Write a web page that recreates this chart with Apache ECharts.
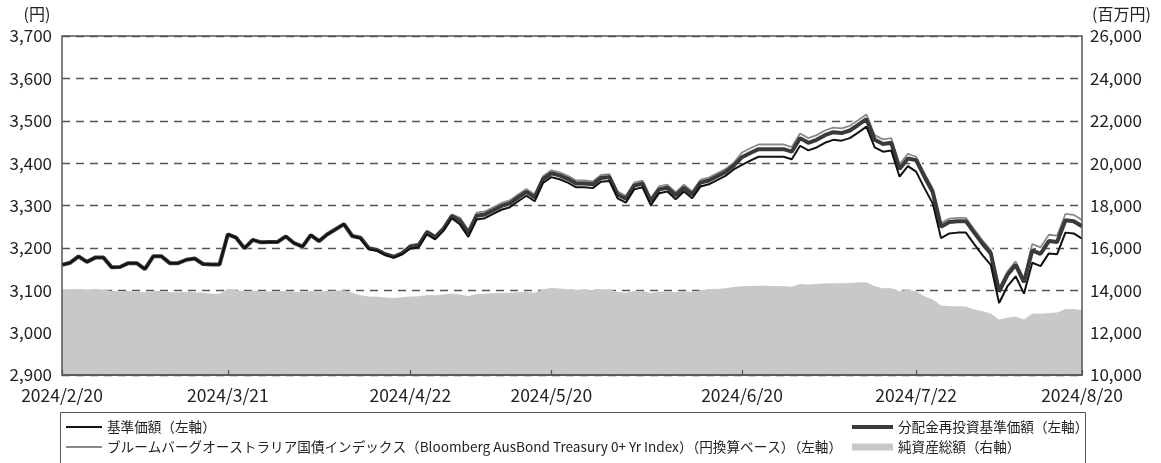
<!DOCTYPE html>
<html><head><meta charset="utf-8">
<script src="https://cdn.jsdelivr.net/npm/echarts@6/dist/echarts.min.js"></script>
<style>html,body{margin:0;padding:0;background:#fff}#c{width:1161px;height:463px}</style>
</head><body><div id="c"></div>
<script>
const dates = [
'2024/2/20','2024/2/21','2024/2/22','2024/2/26','2024/2/27','2024/2/28','2024/2/29',
'2024/3/1','2024/3/4','2024/3/5','2024/3/6','2024/3/7','2024/3/8','2024/3/11','2024/3/12','2024/3/13','2024/3/14','2024/3/15','2024/3/18','2024/3/19','2024/3/21','2024/3/22','2024/3/25','2024/3/26','2024/3/27','2024/3/28','2024/3/29',
'2024/4/1','2024/4/2','2024/4/3','2024/4/4','2024/4/5','2024/4/8','2024/4/9','2024/4/10','2024/4/11','2024/4/12','2024/4/15','2024/4/16','2024/4/17','2024/4/18','2024/4/19','2024/4/22','2024/4/23','2024/4/24','2024/4/25','2024/4/26','2024/4/30',
'2024/5/1','2024/5/2','2024/5/7','2024/5/8','2024/5/9','2024/5/10','2024/5/13','2024/5/14','2024/5/15','2024/5/16','2024/5/17','2024/5/20','2024/5/21','2024/5/22','2024/5/23','2024/5/24','2024/5/27','2024/5/28','2024/5/29','2024/5/30','2024/5/31',
'2024/6/3','2024/6/4','2024/6/5','2024/6/6','2024/6/7','2024/6/10','2024/6/11','2024/6/12','2024/6/13','2024/6/14','2024/6/17','2024/6/18','2024/6/19','2024/6/20','2024/6/21','2024/6/24','2024/6/25','2024/6/26','2024/6/27','2024/6/28',
'2024/7/1','2024/7/2','2024/7/3','2024/7/4','2024/7/5','2024/7/8','2024/7/9','2024/7/10','2024/7/11','2024/7/12','2024/7/16','2024/7/17','2024/7/18','2024/7/19','2024/7/22','2024/7/23','2024/7/24','2024/7/25','2024/7/26','2024/7/29','2024/7/30','2024/7/31',
'2024/8/1','2024/8/2','2024/8/5','2024/8/6','2024/8/7','2024/8/8','2024/8/9','2024/8/13','2024/8/14','2024/8/15','2024/8/16','2024/8/19','2024/8/20'
];
const xTickLabels = ['2024/2/20','2024/3/21','2024/4/22','2024/5/20','2024/6/20','2024/7/22','2024/8/20'];

// 基準価額（左軸）
const navBase = [
3160,3165,3180,3167,3177,3177,3154,3155,3164,3164,3150,3180,3180,3164,3164,3172,3175,3162,3161,3161,
3232,3224,3199,3219,3213,3214,3214,3227,3211,3203,3230,3216,3232,3244,3256,3228,3222,3197,3193,3183,
3177,3185,3198,3201,3232,3220,3240,3270,3255,3226,3267,3270,3280,3290,3296,3310,3323,3310,3353,3367,
3362,3354,3343,3343,3341,3356,3358,3317,3307,3338,3343,3301,3329,3333,3315,3333,3317,3345,3350,3360,
3370,3385,3396,3406,3415,3415,3415,3415,3409,3441,3430,3437,3448,3455,3453,3459,3472,3486,3437,3427,
3430,3368,3393,3380,3341,3305,3223,3234,3236,3236,3209,3183,3160,3070,3109,3133,3092,3165,3157,3187,
3185,3236,3234,3222
];
// 分配金再投資基準価額（左軸）
const navReinvested = [
3160,3165,3180,3167,3177,3177,3154,3155,3164,3164,3150,3180,3180,3164,3164,3172,3175,3162,3161,3161,
3232,3224,3199,3219,3213,3214,3214,3227,3211,3203,3230,3216,3232,3244,3256,3228,3224,3199,3195,3185,
3179,3187,3203,3206,3237,3225,3245,3275,3264,3235,3276,3279,3289,3299,3305,3319,3332,3319,3362,3376,
3371,3363,3352,3352,3350,3365,3367,3326,3316,3347,3352,3310,3338,3342,3324,3342,3326,3354,3359,3369,
3379,3394,3414,3424,3433,3433,3433,3433,3427,3459,3448,3455,3466,3473,3471,3477,3490,3504,3455,3445,
3448,3386,3411,3407,3368,3332,3250,3261,3263,3263,3236,3210,3187,3097,3136,3160,3119,3194,3186,3216,
3214,3265,3263,3251
];
// ブルームバーグオーストラリア国債インデックス（円換算ベース）（左軸）
const benchmarkIndex = [
3160,3165,3180,3167,3177,3177,3154,3155,3164,3164,3150,3180,3180,3164,3164,3172,3175,3162,3161,3161,
3232,3224,3199,3219,3213,3214,3214,3227,3211,3203,3230,3216,3232,3244,3256,3228,3225,3200,3196,3186,
3180,3188,3207,3210,3241,3229,3249,3279,3271,3242,3283,3286,3296,3306,3312,3326,3339,3326,3369,3383,
3378,3370,3359,3359,3357,3372,3374,3333,3323,3354,3359,3317,3345,3349,3331,3349,3333,3361,3366,3376,
3386,3401,3425,3435,3444,3444,3444,3444,3438,3470,3459,3466,3477,3484,3482,3488,3501,3515,3466,3456,
3459,3397,3422,3415,3376,3340,3258,3269,3271,3271,3244,3218,3195,3105,3144,3168,3127,3209,3201,3231,
3229,3280,3278,3266
];
// 純資産総額（右軸, 百万円）
const netAssets = [
14030,14050,14060,14040,14030,14030,13960,13950,13960,13950,13900,13970,13970,13910,13900,13920,13910,13880,13840,13840,
14070,14000,13960,13980,13950,13940,13950,13960,13930,13920,13960,13930,13970,13980,14000,13880,13760,13700,13690,13660,
13640,13670,13700,13720,13780,13760,13800,13850,13800,13730,13820,13830,13860,13880,13880,13900,13920,13880,14050,14110,
14080,14050,14020,14020,14010,14040,14050,13920,13880,13960,13980,13870,13930,13950,13900,13960,13920,14000,14030,14060,
14100,14150,14190,14200,14210,14210,14200,14190,14170,14300,14270,14290,14320,14330,14330,14340,14360,14380,14190,14100,
14100,13950,14030,13950,13720,13560,13280,13250,13250,13230,13090,13010,12900,12620,12700,12760,12620,12900,12890,12930,
12950,13120,13110,13060
];

const nameBase = '基準価額（左軸）';
const nameReinv = '分配金再投資基準価額（左軸）';
const nameIndex = 'ブルームバーグオーストラリア国債インデックス（Bloomberg AusBond Treasury 0+ Yr Index）（円換算ベース）（左軸）';
const nameAssets = '純資産総額（右軸）';
const unitLeft = '(円)';
const unitRight = '(百万円)';

const FONT = '"Noto Sans CJK JP", "Noto Sans", sans-serif';
const fmt = v => v.toLocaleString('en-US');
const showTick = (i, v) => xTickLabels.indexOf(v) >= 0;
const lineIcon = (w, t) => 'path://M0,0L0,0M0,14L0,14M0,' + (7 - t/2) + 'L' + w + ',' + (7 - t/2) + 'L' + w + ',' + (7 + t/2) + 'L0,' + (7 + t/2) + 'Z';

const chart = echarts.init(document.getElementById('c'), null, {renderer: 'canvas'});
chart.setOption({
  animation: false,
  backgroundColor: '#fff',
  textStyle: {fontFamily: FONT},
  grid: {left: 62, right: 79, top: 36, bottom: 88, show: true, z: 5,
         borderColor: '#555', borderWidth: 1.5, backgroundColor: 'transparent'},
  xAxis: {
    type: 'category', data: dates, boundaryGap: false, z: 6,
    axisLine: {show: true, lineStyle: {color: '#555', width: 1.5}},
    axisTick: {show: true, inside: true, length: 5, interval: showTick, lineStyle: {color: '#555', width: 1.2}},
    axisLabel: {interval: showTick, margin: 12, fontSize: 17.5, color: '#222', fontFamily: FONT},
    splitLine: {show: false}
  },
  yAxis: [
    {type: 'value', min: 2900, max: 3700, interval: 100,
     axisLine: {show: false}, axisTick: {show: false},
     axisLabel: {formatter: fmt, fontSize: 17, color: '#222', margin: 10, fontFamily: FONT},
     splitLine: {show: true, lineStyle: {color: '#555', width: 1.3, type: [8, 6]}}},
    {type: 'value', min: 10000, max: 26000, interval: 2000,
     axisLine: {show: false}, axisTick: {show: false},
     axisLabel: {formatter: fmt, fontSize: 17, color: '#222', margin: 8, fontFamily: FONT},
     splitLine: {show: false}}
  ],
  legend: [
    {orient: 'vertical', left: 66, top: 420, padding: 0, itemWidth: 36, itemHeight: 14, itemGap: 6, selectedMode: false,
     textStyle: {fontSize: 13.6, color: '#222', fontFamily: FONT},
     data: [
       {name: nameBase, icon: lineIcon(36, 2), itemStyle: {color: '#111', borderWidth: 0}},
       {name: nameIndex, icon: lineIcon(36, 2), itemStyle: {color: '#8a8a8a', borderWidth: 0}}
     ]},
    {orient: 'vertical', left: 852, top: 420, padding: 0, itemWidth: 41, itemHeight: 14, itemGap: 6, selectedMode: false,
     textStyle: {fontSize: 13.6, color: '#222', fontFamily: FONT},
     data: [
       {name: nameReinv, icon: lineIcon(41, 4), itemStyle: {color: '#3a3a3a', borderWidth: 0}},
       {name: nameAssets, icon: lineIcon(41, 7), itemStyle: {color: '#c8c8c8', borderWidth: 0}}
     ]}
  ],
  graphic: [
    {type: 'rect', shape: {x: 60.5, y: 412.5, width: 1025, height: 60}, style: {fill: 'none', stroke: '#555', lineWidth: 1}, silent: true},
    {type: 'text', x: 37, y: 14, style: {text: unitLeft, fontSize: 16, fontFamily: FONT, fill: '#222', align: 'center', verticalAlign: 'middle'}, silent: true},
    {type: 'text', x: 1092, y: 14, style: {text: unitRight, fontSize: 16, fontFamily: FONT, fill: '#222', align: 'left', verticalAlign: 'middle'}, silent: true}
  ],
  series: [
    {name: nameAssets, type: 'line', yAxisIndex: 1, data: netAssets, symbol: 'none', color: '#c8c8c8',
     lineStyle: {width: 0}, areaStyle: {color: '#c8c8c8', opacity: 1}},
    {name: '_indexBorder', type: 'line', data: benchmarkIndex, symbol: 'none', color: '#fff',
     lineStyle: {width: 4.5, color: '#fff'}},
    {name: nameIndex, type: 'line', data: benchmarkIndex, symbol: 'none', color: '#8a8a8a',
     lineStyle: {width: 1.8, color: '#8a8a8a'}},
    {name: nameReinv, type: 'line', data: navReinvested, symbol: 'none', color: '#3a3a3a',
     lineStyle: {width: 4, color: '#3a3a3a'}},
    {name: nameBase, type: 'line', data: navBase, symbol: 'none', color: '#111',
     lineStyle: {width: 2, color: '#111'}}
  ]
});
</script></body></html>
